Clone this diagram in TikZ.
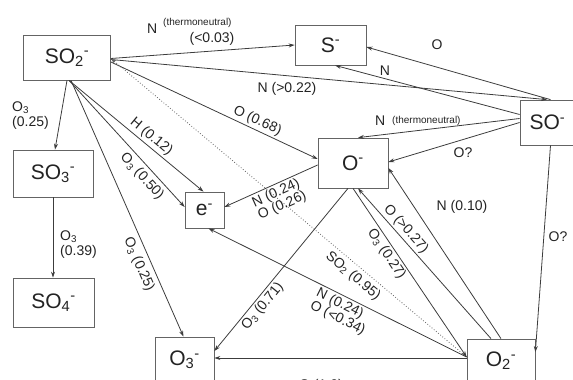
\documentclass[tikz,border=0pt]{standalone}
\usepackage{fontspec}
\setmainfont{Liberation Sans}
\usetikzlibrary{arrows.meta,calc}
\definecolor{linegray}{RGB}{60,60,60}
\definecolor{boxgray}{RGB}{100,100,100}
\definecolor{txt}{RGB}{35,35,35}
\begin{document}
\begin{tikzpicture}[x=1pt,y=-1pt,
  box/.style={draw=boxgray, line width=0.75pt, inner sep=0pt, font=\fontsize{21}{23}\selectfont, text=txt},
  lbl/.style={font=\fontsize{14}{12.5}\selectfont, text=txt, inner sep=2pt},
  lblsmall/.style={font=\fontsize{10}{11}\selectfont, text=txt, inner sep=0pt},
  conn/.style={draw=linegray, line width=0.8pt, -{Stealth[length=6pt,width=4pt]}},
  dotconn/.style={draw=linegray!80, line width=0.8pt, dotted, -{Stealth[length=6pt,width=4pt]}},
]
\useasboundingbox (0,0) rectangle (573,380);
% boxes
\node[box, minimum width=87pt, minimum height=45pt] (so2) at (67,57.5) {SO\textsubscript{2}\textsuperscript{-}};
\node[box, minimum width=71pt, minimum height=40pt] (s) at (330.5,45) {S\textsuperscript{-}};
\node[box, minimum width=55pt, minimum height=45pt] (so) at (547.5,122.5) {SO\textsuperscript{-}};
\node[box, minimum width=80pt, minimum height=47pt] (so3) at (53,173.5) {SO\textsubscript{3}\textsuperscript{-}};
\node[box, minimum width=39pt, minimum height=36pt] (e) at (204.5,210) {e\textsuperscript{-}};
\node[box, minimum width=70pt, minimum height=50pt] (o) at (353,163) {O\textsuperscript{-}};
\node[box, minimum width=81pt, minimum height=49pt] (so4) at (53.5,302.5) {SO\textsubscript{4}\textsuperscript{-}};
\node[box, minimum width=59pt, minimum height=46pt] (o3) at (184.5,360) {O\textsubscript{3}\textsuperscript{-}};
\node[box, minimum width=68pt, minimum height=44pt] (o2) at (501,361) {O\textsubscript{2}\textsuperscript{-}};

% SO2 -> S
\draw[conn] ($(so2.east)+(0,1)$) -- (s.west);
\node[lbl, anchor=base west, inner sep=0pt] (l1a) at (147,33) {N};
\node[lblsmall, anchor=base west] (l1b) at (163,25) {(thermoneutral)};
\node[lbl, anchor=base, inner sep=0pt] (l1c) at (212,42) {(<0.03)};

% SO2 -> SO
\draw[conn] ($(so2.east)+(0,2)$) -- ($(so.north)+(-0.5,0)$);
\node[lbl] (l2) at (287,89) {N (>0.22)};

% SO -> S (O)
\draw[conn] ($(so.north)+(3,0)$) -- ($(s.east)+(0,2)$);
\node[lbl] (l3) at (437,45) {O};

% SO -> S (N)
\draw[conn] ($(so.west)+(0,-8)$) -- ($(s.south)+(4.5,0)$);
\node[lbl] (l4) at (385,71) {N};

% SO -> O (N thermoneutral)
\draw[conn] ($(so.west)+(0,-4)$) -- ($(o.north)+(5,0)$);
\node[lbl, anchor=base west, inner sep=0pt] (l5a) at (375,125) {N};
\node[lblsmall, anchor=base west] (l5b) at (392,123) {(thermoneutral)};

% SO -> O (O?)
\draw[conn] ($(so.west)+(0,0)$) -- ($(o.east)+(0,-1)$);
\node[lbl] (l6) at (463,153) {O?};

% SO -> O2 (O?)
\draw[conn] ($(so.south)+(3,0)$) -- ($(o2.east)+(0,-9)$);
\node[lbl] (l7) at (558,237) {O?};

% SO2 -> O
\draw[conn] ($(so2.east)+(0,4.5)$) -- ($(o.west)+(0,-4)$)
  node[lbl, sloped, above, pos=0.69] (l8) {O (0.68)};

% SO2 -> SO3
\draw[conn] ($(so2.south)+(0,0)$) -- ($(so3.north)+(2,0)$);
\node[lbl, anchor=base west, inner sep=0pt] (l9a) at (12,111) {O\textsubscript{3}};
\node[lbl, anchor=base west, inner sep=0pt] (l9b) at (12,126) {(0.25)};

% SO3 -> SO4
\draw[conn] (so3.south) -- (so3.south |- so4.north);
\node[lbl, anchor=base west, inner sep=0pt] (l10a) at (60,240) {O\textsubscript{3}};
\node[lbl, anchor=base west, inner sep=0pt] (l10b) at (60,255) {(0.39)};

% SO2 -> e (H)
\draw[conn] ($(so2.south)+(2,0)$) -- ($(e.north)+(-1,0)$)
  node[lbl, sloped, above, pos=0.57] (l11) {H (0.12)};

% SO2 -> e (O3)
\draw[conn] ($(so2.south)+(2,0)$) -- ($(e.west)+(0,-3)$)
  node[lbl, sloped, below=2pt, pos=0.7] (l12) {O\textsubscript{3} (0.50)};

% SO2 -> O3
\draw[conn] ($(so2.south)+(4,0)$) -- ($(o3.north)+(-1,0)$)
  node[lbl, sloped, below=3pt, pos=0.7] (l13) {O\textsubscript{3} (0.25)};

% O2 -> SO2 dotted
\draw[dotconn] ($(o2.west)+(0,-4)$) -- ($(so2.east)+(0,1)$)
  node[lbl, sloped, below=2pt, pos=0.3] (l14) {SO\textsubscript{2} (0.95)};

% O -> e
\draw[conn] ($(o.west)+(0,2)$) -- ($(e.east)+(0,-3)$)
  node[lbl, sloped, below, pos=0.48, align=left] (l15) {N (0.24)\\O (0.26)};

% O2 -> e
\draw[conn] ($(o2.west)+(0,-4)$) -- ($(e.south)+(4,0)$)
  node[lbl, sloped, below, pos=0.46, align=left] (l16) {N (0.24)\\O (<0.34)};

% O2 -> O (O >0.27)
\draw[conn] ($(o2.north)+(-10,0)$) -- ($(o.south)+(5,0)$)
  node[lbl, sloped, above, pos=0.69] (l17) {O (>0.27)};

% O -> O2 (O3 0.27)
\draw[conn] (o.south) -- ($(o2.west)+(0,-4)$)
  node[lbl, sloped, below, pos=0.36] (l18) {O\textsubscript{3} (0.27)};

% O2 -> O (N 0.10)
\draw[conn] (o2.north) -- ($(o.east)+(0,5)$);
\node[lbl] (l19) at (462,207) {N (0.10)};

% O -> O3
\draw[conn] ($(o.south)+(-5,0)$) -- ($(o3.east)+(0,-9)$)
  node[lbl, sloped, below, pos=0.69] (l20) {O\textsubscript{3} (0.71)};

% O2 -> O3
\draw[conn] ($(o2.west)+(0,-3)$) -- ($(o3.east)+(0,-2)$);
\node[lbl, anchor=base, inner sep=0pt] (l21) at (321,389) {O (1.0)};
\end{tikzpicture}
\end{document}
